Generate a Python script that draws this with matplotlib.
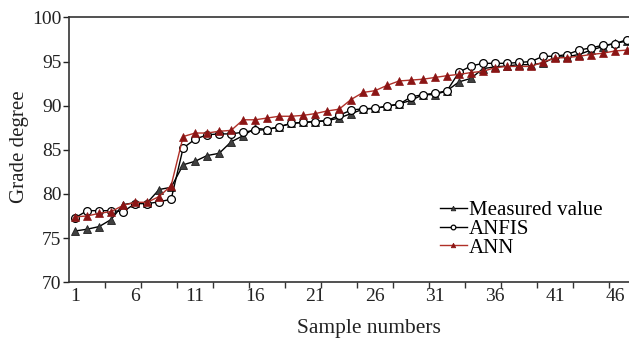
import matplotlib
matplotlib.use("Agg")
import matplotlib.pyplot as plt
import numpy as np

samples = list(range(1, 48))
measured = [75.8, 76.0, 76.3, 77.1, 78.8, 79.0, 79.0, 80.5, 80.75, 83.3,
            83.7, 84.35, 84.6, 85.9, 86.6, 87.45, 87.3, 87.6, 88.0, 88.1,
            88.2, 88.3, 88.6, 89.1, 89.6, 89.7, 89.95, 90.2, 90.6, 91.25,
            91.25, 91.7, 92.7, 93.1, 94.2, 94.4, 94.5, 94.65, 94.65, 94.8,
            95.5, 95.55, 95.8, 96.3, 96.7, 97.1, 97.3]
anfis = [77.3, 78.1, 78.1, 78.1, 78.0, 78.9, 78.9, 79.1, 79.4, 85.2,
         86.2, 86.7, 86.8, 86.8, 87.0, 87.2, 87.3, 87.6, 88.0, 88.1,
         88.2, 88.3, 88.9, 89.5, 89.65, 89.7, 89.95, 90.15, 91.0, 91.25,
         91.4, 91.7, 93.8, 94.5, 94.8, 94.8, 94.8, 94.9, 95.0, 95.6,
         95.6, 95.8, 96.3, 96.55, 96.85, 97.0, 97.5]
ann = [77.4, 77.5, 77.8, 78.0, 78.7, 79.05, 79.05, 79.7, 80.95, 86.5,
       86.9, 86.9, 87.1, 87.2, 88.4, 88.4, 88.6, 88.8, 88.8, 88.9,
       89.1, 89.4, 89.6, 90.7, 91.5, 91.7, 92.3, 92.8, 92.9, 93.0,
       93.2, 93.4, 93.55, 93.75, 93.9, 94.3, 94.45, 94.45, 94.45, 94.95,
       95.4, 95.45, 95.6, 95.8, 95.95, 96.2, 96.3]
xtick_labels = [1, 6, 11, 16, 21, 26, 31, 36, 41, 46]
yticks = [70, 75, 80, 85, 90, 95, 100]

plt.rcParams['font.family'] = ['Liberation Serif', 'DejaVu Serif']

fig = plt.figure(figsize=(6.29, 3.42), dpi=100)
ax = fig.add_axes([0.110, 0.175, 0.890, 0.774])

ax.plot(samples, measured, color='black', lw=1.0, marker='^', ms=5.5,
        mfc='#404040', mec='#202020', mew=0.6, label='Measured value', zorder=3)
ax.plot(samples, anfis, color='black', lw=1.0, marker='o', ms=5.6,
        mfc='white', mec='black', mew=0.9, label='ANFIS', zorder=4)
ax.plot(samples, ann, color='#b03028', lw=1.0, marker='^', ms=5.5,
        mfc='#8b1515', mec='#8b1515', mew=0.5, label='ANN', zorder=5)

ax.set_xlim(0.5, 47.17)
ax.set_ylim(70, 100)
ax.set_yticks(yticks)
ax.set_xticks(xtick_labels)
ax.set_xticklabels([str(v) for v in xtick_labels])
ax.set_xticks(np.arange(3.5, 47, 3), minor=True)
ax.tick_params(axis='x', which='major', length=0, labelsize=14, pad=4, colors='#222222')
ax.tick_params(axis='x', which='minor', length=4, width=1.0, direction='out', color='#333333')
ax.tick_params(axis='y', which='major', length=4, width=1.0, direction='out', labelsize=14, pad=1.5, colors='#222222')

for s in ['left', 'bottom', 'top']:
    ax.spines[s].set_color('#333333')
    ax.spines[s].set_linewidth(1.2)
ax.spines['right'].set_visible(False)

ax.set_xlabel('Sample numbers', fontsize=15.5, color='#222222')
ax.set_ylabel('Grade degree', fontsize=15, color='#222222')
ax.xaxis.set_label_coords(0.536, -0.14)
ax.yaxis.set_label_coords(-0.072, 0.51)

ax.legend(loc='center left', bbox_to_anchor=(0.662, 0.2), frameon=False,
          fontsize=15, handlelength=1.3, handletextpad=0.1, labelspacing=-0.05,
          borderpad=0, borderaxespad=0, markerscale=0.6)

fig.savefig('out.png', dpi=100)
